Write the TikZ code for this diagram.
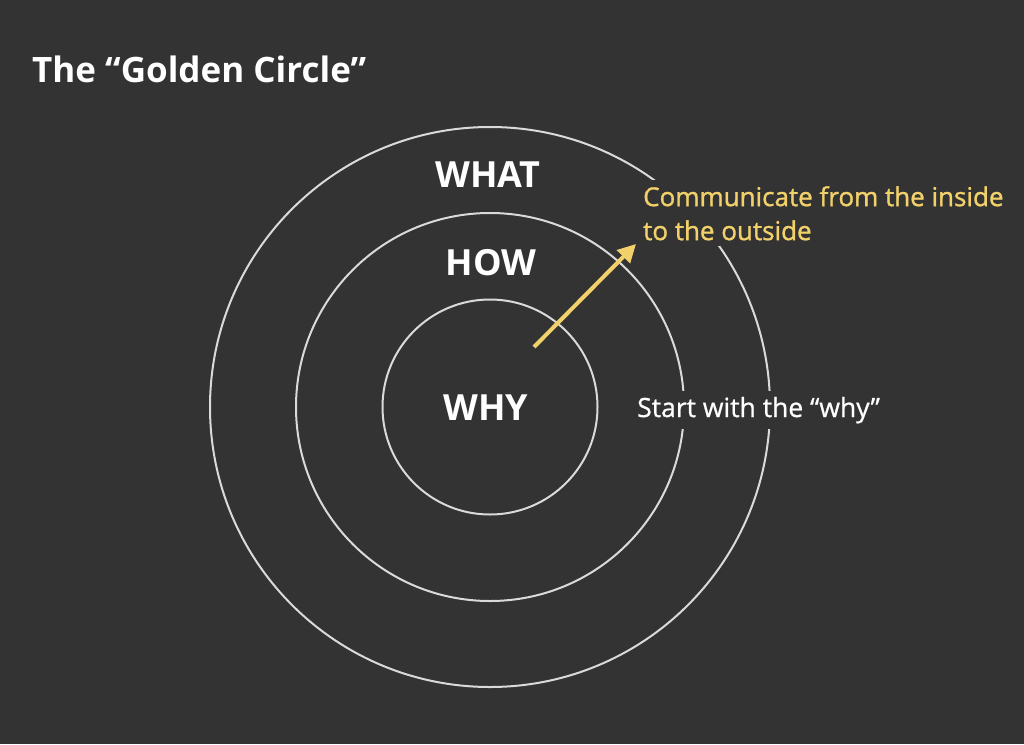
\documentclass[tikz,border=0pt]{standalone}
\usepackage{fontspec}
\setmainfont{Open Sans}
\usetikzlibrary{arrows.meta}
\definecolor{bg}{HTML}{333333}
\definecolor{ring}{HTML}{DADADA}
\definecolor{gold}{HTML}{F2D16B}
\tikzset{
  ringnode/.style={circle, draw=ring, line width=2pt, inner sep=0pt},
  biglabel/.style={text=white, font=\bfseries\fontsize{36}{40}\selectfont, inner sep=0pt},
  note/.style={fill=bg, inner sep=6pt, font=\fontsize{26}{34}\selectfont\addfontfeature{FakeBold=1.2}},
  goldarrow/.style={draw=gold, line width=4pt, -{Triangle[length=18pt,width=18pt]}}
}
\begin{document}
\begin{tikzpicture}[x=1pt,y=-1pt]
\fill[bg] (0,0) rectangle (1024,744);
\useasboundingbox (0,0) rectangle (1024,744);
\node[text=white, font=\bfseries\fontsize{35}{40}\selectfont, inner sep=0pt, anchor=base west] (title) at (32,82) {The “Golden Circle”};
\node[ringnode, minimum size=560pt] (outer) at (490,407) {};
\node[ringnode, minimum size=388pt] (middle) at (490,407) {};
\node[ringnode, minimum size=215pt] (inner) at (490,407) {};
\node[biglabel, anchor=base] (what) at (488,187) {WHAT};
\node[biglabel, anchor=base] (how) at (491,275) {HOW};
\node[biglabel, anchor=base] (why) at (486,420) {WHY};
\node[note, text=white, anchor=base west, font=\fontsize{26.5}{34}\selectfont\addfontfeature{FakeBold=0.8}] (start) at (631,417) {Start with the “why”};
\node[note, text=gold, align=left, anchor=north west] (comm) at (637,180) {Communicate from the inside\\to the outside};
\coordinate (from) at (534,347);
\coordinate (to) at (636,244);
\draw[goldarrow] (from) -- (to);
\end{tikzpicture}
\end{document}
